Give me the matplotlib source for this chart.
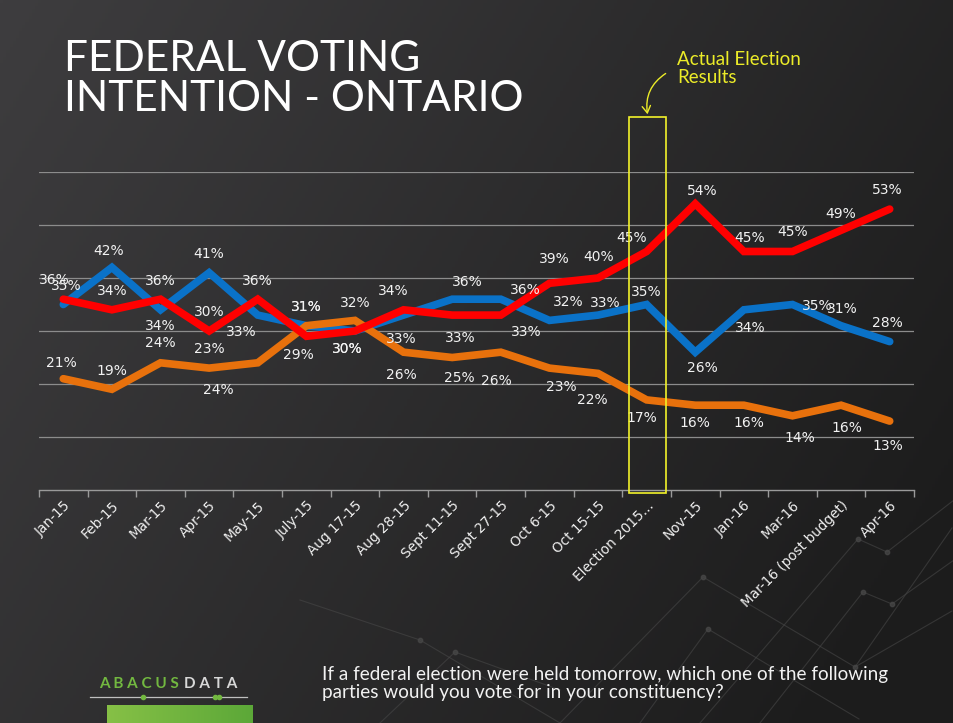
import numpy as np
import matplotlib
matplotlib.use("Agg")
import matplotlib.pyplot as plt
from matplotlib.patches import Rectangle, FancyArrowPatch
from matplotlib.lines import Line2D

# ---------------- data ----------------
categories = ["Jan-15", "Feb-15", "Mar-15", "Apr-15", "May-15", "July-15",
              "Aug 17-15", "Aug 28-15", "Sept 11-15", "Sept 27-15", "Oct 6-15",
              "Oct 15-15", "Election 2015...", "Nov-15", "Jan-16", "Mar-16",
              "Mar-16 (post budget)", "Apr-16"]
liberal = [36, 34, 36, 30, 36, 29, 30, 34, 33, 33, 39, 40, 45, 54, 45, 45, 49, 53]
conservative = [35, 42, 34, 41, 33, 31, 30, 33, 36, 36, 32, 33, 35, 26, 34, 35, 31, 28]
ndp = [21, 19, 24, 23, 24, 31, 32, 26, 25, 26, 23, 22, 17, 16, 16, 14, 16, 13]

title = "FEDERAL VOTING\nINTENTION - ONTARIO"
question = ("If a federal election were held tomorrow, which one of the following\n"
            "parties would you vote for in your constituency?")
annot_text = "Actual Election\nResults"
election_idx = 12

# label offsets (pixels, screen-down y)
off_lib = [(-9, -19), (0, -19), (0, -18), (0, -19), (0, -18), (-8, 19), (-8, 18),
           (-10, -19), (8, 23), (25, 17), (5, -24), (1, -21), (-15, -14), (7, -13),
           (6, -14), (0, -20), (0, -16), (-2, -19)]
off_con = [(3, -19), (-3, -16), (0, 16), (0, -19), (-16, 17), (0, -19), (-8, 18),
           (-2, 24), (15, -17), (25, -9), (19, -18), (7, -12), (0, -12), (7, 16),
           (6, 18), (25, 2), (1, -17), (-2, -19)]
off_ndp = [(-2, -16), (0, -18), (0, -20), (0, -19), (-39, 27), (0, -19), (0, -17),
           (-2, 23), (7, 21), (-4, 29), (12, 19), (-6, 27), (-5, 18), (0, 18),
           (5, 18), (7, 22), (6, 23), (-2, 25)]

W, H = 954, 723
fig = plt.figure(figsize=(W / 100, H / 100), dpi=100)

# ---------------- background ----------------
bg = fig.add_axes([0, 0, 1, 1], zorder=-10)
xx, yy = np.meshgrid(np.linspace(0, 1, 300), np.linspace(0, 1, 230))
t = np.clip(0.75 * xx + 0.35 * yy, 0, 1)
c0 = np.array([0x3e, 0x3d, 0x3f]) / 255
c1 = np.array([0x1c, 0x1c, 0x1c]) / 255
img = c0[None, None, :] * (1 - t[..., None]) + c1[None, None, :] * t[..., None]
bg.imshow(img, extent=[0, W, H, 0], aspect="auto")
bg.set_xlim(0, W)
bg.set_ylim(H, 0)
bg.axis("off")

# faint decorative network lines
net = [[(560, 723), (703, 577), (855, 667), (952, 611)],
       [(640, 723), (708, 629), (859, 719)],
       [(700, 723), (858, 539), (887, 552), (954, 500)],
       [(760, 723), (863, 592), (892, 604), (954, 560)],
       [(855, 667), (952, 528)],
       [(300, 600), (420, 640), (560, 723)],
       [(380, 723), (455, 652), (560, 690)]]
for seg in net:
    xs, ys = zip(*seg)
    bg.plot(xs, ys, color="#474747", lw=0.8, alpha=0.6)
    bg.scatter(xs[1:-1], ys[1:-1], s=10, color="#4a4a4a", alpha=0.7)

# ---------------- chart ----------------
ax = fig.add_axes([39 / W, 1 - 490 / H, (914 - 39) / W, (490 - 172) / H])
ax.set_facecolor("none")
n = len(categories)
x = np.arange(n)
ax.set_xlim(-0.5, n - 0.5)
ax.set_ylim(0, 60)

for v in range(10, 61, 10):
    ax.axhline(v, color="#8c8c8c", lw=0.9, zorder=1)

for s in ["top", "right", "left"]:
    ax.spines[s].set_visible(False)
ax.spines["bottom"].set_color("#9a9a9a")
ax.spines["bottom"].set_linewidth(1.0)
ax.set_yticks([])

ax.set_xticks(x)
ax.set_xticklabels(categories, rotation=45, ha="right", rotation_mode="anchor",
                   color="#f0f0f0", fontsize=9.8)
ax.tick_params(axis="x", which="major", length=0, pad=6)
ax.set_xticks(np.arange(-0.5, n, 1.0), minor=True)
ax.tick_params(axis="x", which="minor", length=5, color="#9a9a9a", width=1.0)

series = [(conservative, "#0a72c8", off_con),
          (ndp, "#e8710c", off_ndp),
          (liberal, "#ff0000", off_lib)]
for vals, col, offs in series:
    ax.plot(x, vals, color=col, lw=5.5, solid_joinstyle="miter",
            solid_capstyle="round", zorder=3)
for vals, col, offs in series:
    for i, v in enumerate(vals):
        dx, dy = offs[i]
        ax.annotate(f"{v}%", (x[i], v), xytext=(dx, -dy), textcoords="offset pixels",
                    ha="center", va="center", color="#f2f2f2", fontsize=10,
                    zorder=5, annotation_clip=False)

# election highlight rectangle
ax.add_patch(Rectangle((election_idx - 0.37, -0.6), 0.76, 71.0, fill=False,
                       edgecolor="#f2f22a", lw=1.2, clip_on=False, zorder=6))

# ---------------- texts ----------------
fig.text(64 / W, 1 - 40 / H, title, color="white", fontsize=30.5, family="Lato",
         va="top", ha="left", linespacing=1.08)

fig.text(677 / W, 1 - 51 / H, annot_text, color="#ecec28", fontsize=13.5,
         family="Lato", va="top", ha="left", linespacing=1.08)
arrow = FancyArrowPatch((668 / W, 1 - 72 / H), (648 / W, 1 - 117 / H),
                        transform=fig.transFigure, connectionstyle="arc3,rad=0.35",
                        arrowstyle="->,head_length=5,head_width=3", color="#ecec28",
                        lw=1.0, mutation_scale=1)
fig.add_artist(arrow)

fig.text(322 / W, 1 - 666 / H, question, color="#f2f2f2", fontsize=13.6,
         family="Lato", va="top", ha="left", linespacing=1.1)

# logo
fig.text(179 / W, 1 - 684 / H, "A B A C U S", color="#72b840", fontsize=11,
         family="Lato", ha="right", va="center", fontweight="bold")
fig.text(184 / W, 1 - 684 / H, "D A T A", color="#d8d8d8", fontsize=11,
         family="Lato", ha="left", va="center", fontweight="bold")
fig.add_artist(Line2D([90 / W, 247 / W], [1 - 697 / H, 1 - 697 / H],
                      transform=fig.transFigure, color="#bfbfbf", lw=0.9))
fig.add_artist(Line2D([143 / W, 215 / W, 219 / W], [1 - 697 / H] * 3,
                      transform=fig.transFigure, color="#72b840", lw=0,
                      marker="o", markersize=3))
lg = fig.add_axes([107 / W, 0, (253 - 107) / W, 18 / H], zorder=2)
grad = np.linspace(0, 1, 100)[None, :]
gimg = np.array([0x86, 0xc0, 0x46]) / 255 * (1 - grad[..., None]) + \
       np.array([0x5c, 0xa8, 0x38]) / 255 * grad[..., None]
lg.imshow(gimg, aspect="auto", extent=[0, 1, 0, 1])
lg.axis("off")

fig.savefig("out.png", dpi=100)
